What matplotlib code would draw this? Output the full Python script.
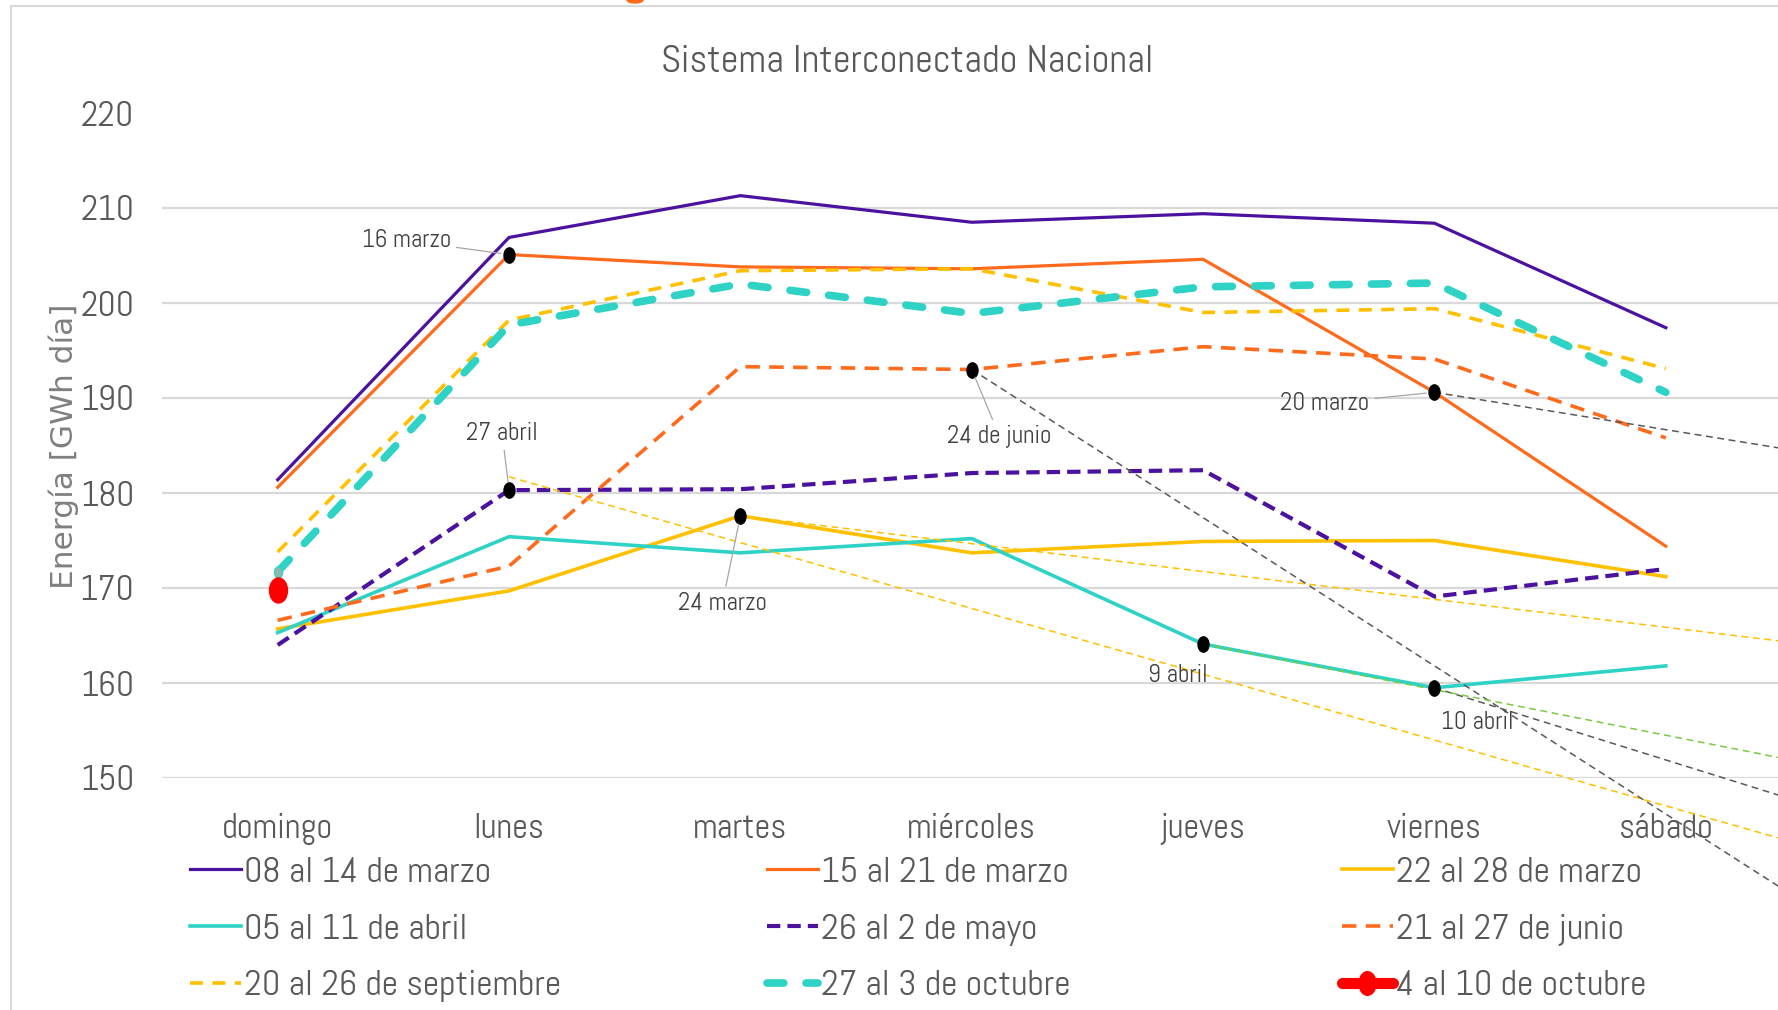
import numpy as np
import matplotlib
matplotlib.use("Agg")
import matplotlib.pyplot as plt
from matplotlib.lines import Line2D
from matplotlib.path import Path
from matplotlib.patches import Rectangle, Ellipse
from matplotlib.transforms import Affine2D

# ── Data (GWh/día) ────────────────────────────────────────────────────────────
DAYS = ["domingo", "lunes", "martes", "miércoles", "jueves", "viernes", "sábado"]

mar_08_14     = [181.4, 206.9, 211.3, 208.5, 209.4, 208.4, 197.4]
mar_15_21     = [180.6, 205.1, 203.8, 203.6, 204.6, 190.6, 174.4]
mar_22_28     = [165.7, 169.7, 177.6, 173.7, 174.9, 175.0, 171.2]
abr_05_11     = [165.3, 175.4, 173.7, 175.2, 164.1, 159.5, 161.8]
abr_26_may_02 = [164.0, 180.3, 180.4, 182.1, 182.4, 169.1, 172.0]
jun_21_27     = [166.6, 172.3, 193.3, 193.0, 195.4, 194.1, 185.8]
sep_20_26     = [173.8, 198.2, 203.4, 203.6, 199.0, 199.4, 193.1]
sep_27_oct_03 = [171.7, 197.7, 202.0, 198.9, 201.7, 202.1, 190.6]
oct_04_10     = [169.8]

LABELS = ["08 al 14 de marzo", "15 al 21 de marzo", "22 al 28 de marzo",
          "05 al 11 de abril", "26 al 2 de mayo", "21 al 27 de junio",
          "20 al 26 de septiembre", "27 al 3 de octubre", "4 al 10 de octubre"]

# annotated points: text, day index, series
NOTES = [("16 marzo", 1, mar_15_21), ("27 abril", 1, abr_26_may_02),
         ("24 marzo", 2, mar_22_28), ("24 de junio", 3, jun_21_27),
         ("20 marzo", 5, mar_15_21), ("9 abril", 4, abr_05_11),
         ("10 abril", 5, abr_05_11)]

# straight dashed guide lines: start day, start value, value at right edge
trend_from_day = [1, 2, 3, 5, 5, 4]
trend_from_val = [181.7, 177.6, 193.0, 190.6, 159.5, 164.1]
trend_to_val   = [143.6, 164.4, 138.4, 184.7, 148.1, 152.1]

# ── Styles ────────────────────────────────────────────────────────────────────
PURPLE, ORANGE, YELLOW, CYAN = "#4B12A0", "#FF6A1C", "#FFC000", "#2ED3C6"
TXT = "#595959"
plt.rcParams["font.family"] = ["Abel", "DejaVu Sans"]

styles = [
    dict(color=PURPLE, lw=2.3),
    dict(color=ORANGE, lw=2.3),
    dict(color=YELLOW, lw=2.6),
    dict(color=CYAN, lw=2.6),
    dict(color=PURPLE, lw=3.0, dashes=(3.2, 1.7)),
    dict(color=ORANGE, lw=2.6, dashes=(4.0, 2.6)),
    dict(color=YELLOW, lw=2.6, dashes=(3.6, 2.6)),
    dict(color=CYAN, lw=5.5, dashes=(2.2, 2.9), dash_capstyle="round"),
]
trend_colors = [YELLOW, YELLOW, "#595959", "#595959", "#595959", "#7AC943"]

ELLIPSE = Path.unit_circle().transformed(Affine2D().scale(0.72, 1.0))

fig = plt.figure(figsize=(17.78, 10.10), dpi=100)
ax = fig.add_axes([162 / 1778, 1 - 778 / 1010, 1619.5 / 1778, 665 / 1010])

x = np.arange(len(DAYS))
series = [mar_08_14, mar_15_21, mar_22_28, abr_05_11, abr_26_may_02,
          jun_21_27, sep_20_26, sep_27_oct_03]
handles = []
for vals, st in zip(series, styles):
    ax.plot(x[:len(vals)], vals, solid_joinstyle="round", zorder=3, **st)
    handles.append(Line2D([], [], **st))

# single point of the current week
ax.plot(x[:len(oct_04_10)], oct_04_10, color="red", lw=6, marker=ELLIPSE,
        ms=18, zorder=6)
handles.append(Line2D([], [], color="red", lw=8, solid_capstyle="round",
                      marker=ELLIPSE, ms=17))
# small marker at start of previous week
ax.plot(x[0], sep_27_oct_03[0], ls="none", marker=ELLIPSE, ms=8,
        mfc="#8FB7B2", mec=CYAN, mew=1, zorder=5)

# dashed guide lines running off the plot
for d0, v0, v1, c in zip(trend_from_day, trend_from_val, trend_to_val, trend_colors):
    ax.plot([d0, 6.5], [v0, v1], color=c, lw=1.1, dashes=(4.5, 3),
            clip_on=False, zorder=4)

# annotated points
offsets = [(-74, 10), (-5, 41), (-13, -63), (20, -48), (-79, -8), (-18, -23), (31, -25)]
for (txt, d, vals), off in zip(NOTES, offsets):
    ax.plot(d, vals[d], ls="none", marker=ELLIPSE, ms=11, mfc="black",
            mec="black", zorder=5)
    leader = None
    if txt not in ("9 abril", "10 abril"):
        leader = dict(arrowstyle="-", color="#A6A6A6", lw=0.9, shrinkA=2, shrinkB=6)
    ax.annotate(txt, (d, vals[d]), xytext=off, textcoords="offset points",
                ha="center", va="center", fontsize=18, color="#404040",
                arrowprops=leader, zorder=7)

# ── Axes styling ──────────────────────────────────────────────────────────────
ax.set_xlim(-0.5, 6.5)
ax.set_ylim(150, 220)
ax.set_yticks(range(150, 221, 10))
ax.set_xticks(x)
ax.set_xticklabels(DAYS)
ax.tick_params(axis="y", length=0, pad=20, labelsize=25.5, labelcolor=TXT)
ax.tick_params(axis="x", length=0, pad=25, labelsize=25, labelcolor=TXT)
ax.grid(axis="y", color="#D9D9D9", lw=1.6, zorder=0)
ax.get_ygridlines()[-1].set_visible(False)
ax.set_axisbelow(True)
for s in ax.spines.values():
    s.set_visible(False)

fig.text(907 / 1778, 1 - 72 / 1010, "Sistema Interconectado Nacional",
         ha="center", va="baseline", fontsize=28, color=TXT)
fig.text(64 / 1778, 1 - 446 / 1010, "Energía [GWh día]", rotation=90,
         ha="center", va="center", fontsize=22.5, color="#7F7F7F",
         family="DejaVu Sans")

# legend: three columns placed separately
col_x = [190, 767, 1342]
for c in range(3):
    fig.legend(handles[c::3], LABELS[c::3], loc="center left",
               bbox_to_anchor=(col_x[c] / 1778, 1 - 929.5 / 1010),
               frameon=False, fontsize=26, labelcolor=TXT, handlelength=1.4,
               handletextpad=0.1, labelspacing=0.68, borderpad=0, borderaxespad=0)

# chart border and the clipped mark above it
fig.patches.append(Rectangle((11 / 1778, -0.1), 2, 1.1 - 6 / 1010,
                             transform=fig.transFigure, fill=False,
                             edgecolor="#D9D9D9", lw=1.5))
fig.patches.append(Ellipse((635 / 1778, 1.0), 16 / 1778, 6 / 1010,
                           transform=fig.transFigure, color="#FF6A1C"))

fig.savefig("out.png", dpi=100)
